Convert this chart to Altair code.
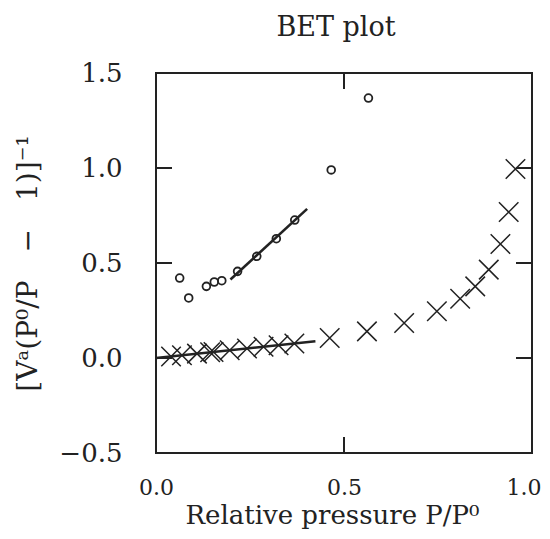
import altair as alt
import pandas as pd

# Circles (open symbols)
circ_x = [0.063, 0.087, 0.134, 0.155, 0.175, 0.217, 0.268, 0.320, 0.369, 0.466, 0.565]
circ_y = [0.421, 0.316, 0.377, 0.400, 0.407, 0.456, 0.535, 0.628, 0.726, 0.990, 1.368]

# Crosses
cross_x = [0.040, 0.069, 0.109, 0.144, 0.153, 0.196, 0.242, 0.286, 0.326, 0.368,
           0.462, 0.561, 0.660, 0.747, 0.809, 0.849, 0.885, 0.916, 0.938, 0.956]
cross_y = [0.008, 0.014, 0.023, 0.030, 0.032, 0.041, 0.050, 0.059, 0.067, 0.076,
           0.105, 0.140, 0.184, 0.246, 0.312, 0.377, 0.465, 0.600, 0.768, 0.995]

# Fitted straight lines (end points)
fit_circ_x = [0.198, 0.402]
fit_circ_y = [0.413, 0.785]
fit_cross_x = [0.0, 0.424]
fit_cross_y = [0.0, 0.088]

x_ticks = [0.0, 0.5, 1.0]
y_ticks = [-0.5, 0.0, 0.5, 1.0, 1.5]
inner_x_ticks = [0.5]
inner_y_ticks = [0.0, 0.5, 1.0]

INK = "#222222"
W, H = 376, 380
FONT = "DejaVu Serif"

xs = alt.Scale(domain=[0, 1], nice=False, zero=False)
ys = alt.Scale(domain=[-0.5, 1.5], nice=False, zero=False)

circ_df = pd.DataFrame({"x": circ_x, "y": circ_y})
cross_df = pd.DataFrame({"x": cross_x, "y": cross_y})
fit_df = pd.DataFrame({
    "x": fit_circ_x + fit_cross_x,
    "y": fit_circ_y + fit_cross_y,
    "g": ["c", "c", "x", "x"],
})
xt_df = pd.DataFrame({"x": inner_x_ticks})
yt_df = pd.DataFrame({"y": inner_y_ticks})

x_axis = alt.Axis(values=x_ticks, format=".1f", title="Relative pressure P/P⁰",
                  ticks=False, domain=False, grid=False, labelFlush=False,
                  labelAlign={"condition": {"test": "datum.value >= 1", "value": "right"},
                              "value": "center"},
                  labelOffset={"condition": {"test": "datum.value >= 1", "value": 9},
                               "value": 0},
                  labelFont=FONT, labelFontSize=22, labelColor=INK, labelPadding=24,
                  titleFont=FONT, titleFontSize=26, titleFontWeight="normal",
                  titleColor=INK, titlePadding=4, titleX=176)
y_axis = alt.Axis(values=y_ticks, format=".1f",
                  title="[Vᵃ(P⁰/P\u2003−\u20031)]⁻¹",
                  ticks=False, domain=False, grid=False, labelFlush=False,
                  labelFont=FONT, labelFontSize=26, labelColor=INK, labelPadding=34,
                  titleFont=FONT, titleFontSize=28, titleFontWeight="normal",
                  titleColor=INK, titlePadding=16)

X = alt.X("x:Q", scale=xs, axis=x_axis)
Y = alt.Y("y:Q", scale=ys, axis=y_axis)

circles = alt.Chart(circ_df).mark_point(
    shape="circle", filled=False, size=60, strokeWidth=1.8, color=INK, opacity=1
).encode(x=X, y=Y)

crosses = alt.Chart(cross_df).mark_point(
    shape="M-1,-1L1,1M1,-1L-1,1", filled=False, size=380, strokeWidth=1.5,
    color=INK, opacity=1
).encode(x=X, y=Y)

fits = alt.Chart(fit_df).mark_line(color=INK, strokeWidth=2.6).encode(
    x=X, y=Y, detail="g:N")

tick_len = 16
xt_bottom = alt.Chart(xt_df).mark_rule(color=INK, strokeWidth=2).encode(
    x=X, y=alt.value(H), y2=alt.value(H - tick_len))
xt_top = alt.Chart(xt_df).mark_rule(color=INK, strokeWidth=2).encode(
    x=X, y=alt.value(0), y2=alt.value(tick_len))
yt_left = alt.Chart(yt_df).mark_rule(color=INK, strokeWidth=2).encode(
    y=Y, x=alt.value(0), x2=alt.value(tick_len))
yt_right = alt.Chart(yt_df).mark_rule(color=INK, strokeWidth=2).encode(
    y=Y, x=alt.value(W), x2=alt.value(W - tick_len))

chart = alt.layer(
    circles, crosses, fits, xt_bottom, xt_top, yt_left, yt_right
).properties(
    width=W, height=H,
    title=alt.TitleParams("BET plot", font=FONT, fontSize=27, fontWeight="normal",
                          color=INK, anchor="middle", frame="group", offset=13,
                          baseline="alphabetic", dx=-8, dy=16),
    autosize=alt.AutoSizeParams(type="none"),
    padding={"left": 148, "top": 65, "right": 10, "bottom": 78},
).configure_view(stroke=INK, strokeWidth=2)

chart.save("out.html", embed_options={"renderer": "svg", "actions": False})
